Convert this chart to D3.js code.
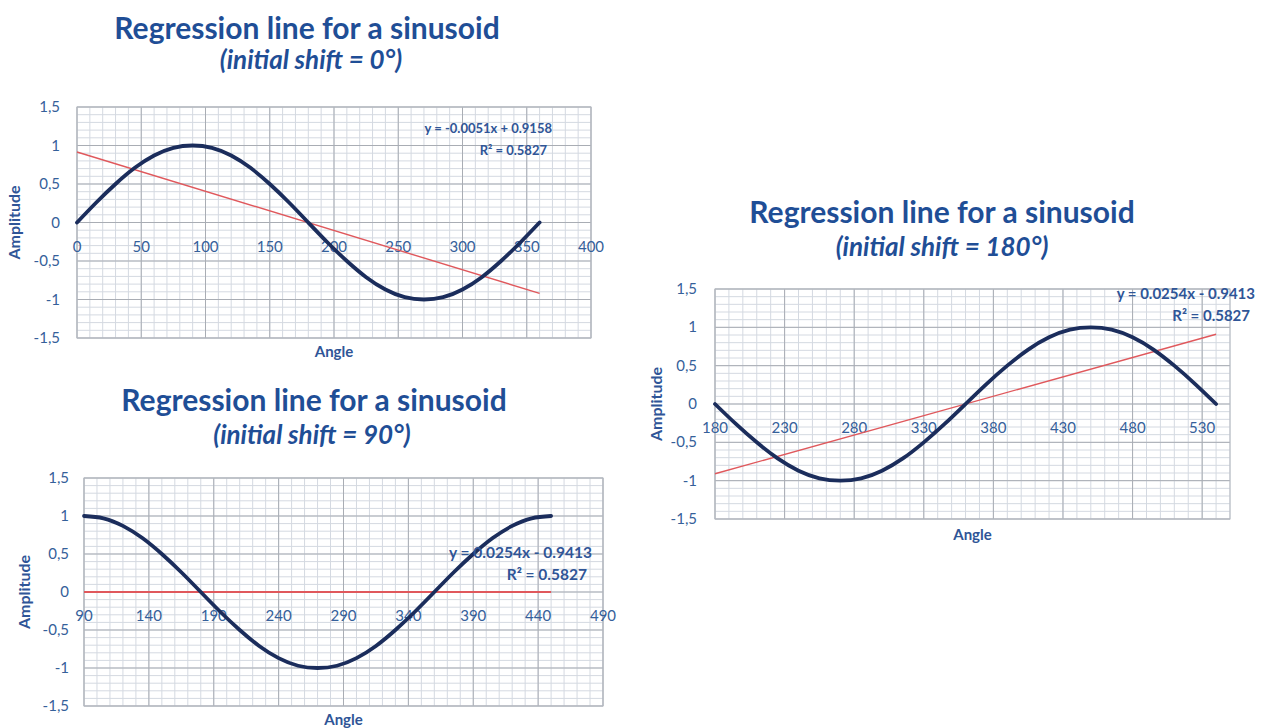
<!DOCTYPE html>
<html lang="en">
<head>
  <meta charset="UTF-8">
  <title>Regression line for a sinusoid</title>
  <script src="https://d3js.org/d3.v7.min.js"></script>
  <style>
    body { margin: 0; padding: 0; background: #fff; font-family: Lato, "Open Sans", sans-serif; }
    svg { display: block; }
    .title { font-weight: bold; fill: #1f4e96; }
    .tick-label { font-size: 15px; fill: #35609a; }
    .axis-title { font-size: 15px; font-weight: bold; fill: #2f5597; }
    .eq { font-weight: bold; fill: #2f5597; }
  </style>
</head>
<body>
  <svg width="1262" height="728"></svg>
  <script>
    const angles0   = [0, 15, 30, 45, 60, 75, 90, 105, 120, 135, 150, 165, 180, 195, 210, 225, 240, 255, 270, 285, 300, 315, 330, 345, 360];
    const angles90  = [90, 105, 120, 135, 150, 165, 180, 195, 210, 225, 240, 255, 270, 285, 300, 315, 330, 345, 360, 375, 390, 405, 420, 435, 450];
    const angles180 = [180, 195, 210, 225, 240, 255, 270, 285, 300, 315, 330, 345, 360, 375, 390, 405, 420, 435, 450, 465, 480, 495, 510, 525, 540];

    const amp0   = [0, 0.26, 0.5, 0.71, 0.87, 0.97, 1, 0.97, 0.87, 0.71, 0.5, 0.26, 0, -0.26, -0.5, -0.71, -0.87, -0.97, -1, -0.97, -0.87, -0.71, -0.5, -0.26, 0];
    const amp90  = [1, 0.97, 0.87, 0.71, 0.5, 0.26, 0, -0.26, -0.5, -0.71, -0.87, -0.97, -1, -0.97, -0.87, -0.71, -0.5, -0.26, 0, 0.26, 0.5, 0.71, 0.87, 0.97, 1];
    const amp180 = [0, -0.26, -0.5, -0.71, -0.87, -0.97, -1, -0.97, -0.87, -0.71, -0.5, -0.26, 0, 0.26, 0.5, 0.71, 0.87, 0.97, 1, 0.97, 0.87, 0.71, 0.5, 0.26, 0];

    // regression line end points
    const trendX0   = [0, 360];
    const trendY0   = [0.916, -0.92];
    const trendX90  = [90, 450];
    const trendY90  = [0, 0];
    const trendX180 = [180, 540];
    const trendY180 = [-0.91, 0.91];

    const titles    = ["Regression line for a sinusoid", "Regression line for a sinusoid", "Regression line for a sinusoid"];
    const subtitles = ["(initial shift = 0°)", "(initial shift = 90°)", "(initial shift = 180°)"];
    const equations = ["y = -0.0051x + 0.9158", "y = 0.0254x - 0.9413", "y = 0.0254x - 0.9413"];
    const rSquared  = ["R² = 0.5827", "R² = 0.5827", "R² = 0.5827"];

    const yTicks = [-1.5, -1, -0.5, 0, 0.5, 1, 1.5];
    const xDomains = [[0, 400], [90, 490], [180, 550]];

    const svg = d3.select("svg");
    const fmtY = d => String(d).replace(".", ",");

    const charts = [
      { angles: angles0, amp: amp0, tx: trendX0, ty: trendY0, dom: xDomains[0],
        box: { x0: 77, x1: 591, y0: 107, y1: 338 },
        titleX: 307, titleY: 39, subX: 311, subY: 69,
        eqX: 552, eqY: 133, eqSize: 13, yLabelGap: 17, yTitleX: 14, xTitleY: 357, redW: 1.4 },
      { angles: angles90, amp: amp90, tx: trendX90, ty: trendY90, dom: xDomains[1],
        box: { x0: 84, x1: 603, y0: 478, y1: 706 },
        titleX: 314, titleY: 411, subX: 312, subY: 444,
        eqX: 592, eqY: 558, eqSize: 15.5, yLabelGap: 15, yTitleX: 24, xTitleY: 725, redW: 1.8 },
      { angles: angles180, amp: amp180, tx: trendX180, ty: trendY180, dom: xDomains[2],
        box: { x0: 715, x1: 1230, y0: 289, y1: 519 },
        titleX: 942, titleY: 223, subX: 942, subY: 256,
        eqX: 1255, eqY: 299, eqSize: 15, yLabelGap: 18, yTitleX: 656, xTitleY: 540, redW: 1.4 }
    ];

    charts.forEach((c, i) => {
      const b = c.box;
      const x = d3.scaleLinear().domain(c.dom).range([b.x0, b.x1]);
      const y = d3.scaleLinear().domain([-1.5, 1.5]).range([b.y1, b.y0]);
      const g = svg.append("g");

      // titles
      g.append("text").attr("class", "title")
        .attr("x", c.titleX).attr("y", c.titleY)
        .attr("text-anchor", "middle").style("font-size", "30px")
        .text(titles[i]);
      g.append("text").attr("class", "title")
        .attr("x", c.subX).attr("y", c.subY)
        .attr("text-anchor", "middle").style("font-size", "26px").style("font-style", "italic")
        .text(subtitles[i]);

      // minor grid
      const minorX = d3.range(c.dom[0], c.dom[1] + 0.01, 10);
      const minorY = d3.range(-15, 16).map(v => v / 10);
      g.append("g").selectAll("line").data(minorX).join("line")
        .attr("x1", d => x(d)).attr("x2", d => x(d))
        .attr("y1", b.y0).attr("y2", b.y1)
        .attr("stroke", "#d4d9e1").attr("stroke-width", 1);
      g.append("g").selectAll("line").data(minorY).join("line")
        .attr("x1", b.x0).attr("x2", b.x1)
        .attr("y1", d => y(d)).attr("y2", d => y(d))
        .attr("stroke", "#d4d9e1").attr("stroke-width", 1);

      // major grid
      const majorX = d3.range(c.dom[0], c.dom[1] + 0.01, 50);
      g.append("g").selectAll("line").data(majorX).join("line")
        .attr("x1", d => x(d)).attr("x2", d => x(d))
        .attr("y1", b.y0).attr("y2", b.y1)
        .attr("stroke", "#a9adb4").attr("stroke-width", 1);
      g.append("g").selectAll("line").data(yTicks).join("line")
        .attr("x1", b.x0).attr("x2", b.x1)
        .attr("y1", d => y(d)).attr("y2", d => y(d))
        .attr("stroke", "#a9adb4").attr("stroke-width", 1);
      g.append("rect")
        .attr("x", b.x0).attr("y", b.y0)
        .attr("width", b.x1 - b.x0).attr("height", b.y1 - b.y0)
        .attr("fill", "none").attr("stroke", "#b5b9c0");

      // tick labels
      g.append("g").selectAll("text").data(yTicks).join("text")
        .attr("class", "tick-label")
        .attr("x", b.x0 - c.yLabelGap).attr("y", d => y(d) + 5)
        .attr("text-anchor", "end")
        .text(fmtY);
      g.append("g").selectAll("text").data(majorX).join("text")
        .attr("class", "tick-label")
        .attr("x", d => x(d)).attr("y", y(0) + 29)
        .attr("text-anchor", "middle")
        .text(d => d);

      // axis titles
      g.append("text").attr("class", "axis-title")
        .attr("x", (b.x0 + b.x1) / 2).attr("y", c.xTitleY)
        .attr("text-anchor", "middle").text("Angle");
      g.append("text").attr("class", "axis-title")
        .attr("transform", `translate(${c.yTitleX + 6},${y(0)}) rotate(-90)`)
        .attr("text-anchor", "middle").style("font-size", "16px").text("Amplitude");

      // regression line
      const trend = c.tx.map((v, k) => [v, c.ty[k]]);
      g.append("path").datum(trend)
        .attr("fill", "none").attr("stroke", "#e0585c").attr("stroke-width", c.redW)
        .attr("d", d3.line().x(d => x(d[0])).y(d => y(d[1])));

      // sinusoid
      const pts = c.angles.map((v, k) => [v, c.amp[k]]);
      g.append("path").datum(pts)
        .attr("fill", "none").attr("stroke", "#1b2d5c").attr("stroke-width", 3.8)
        .attr("stroke-linecap", "round")
        .attr("d", d3.line().curve(d3.curveNatural).x(d => x(d[0])).y(d => y(d[1])));

      // trendline equation
      g.append("text").attr("class", "eq")
        .attr("x", c.eqX).attr("y", c.eqY)
        .style("font-size", c.eqSize + "px")
        .attr("text-anchor", "end").text(equations[i]);
      g.append("text").attr("class", "eq")
        .attr("x", c.eqX - 5).attr("y", c.eqY + 22)
        .style("font-size", c.eqSize + "px")
        .attr("text-anchor", "end").text(rSquared[i]);
    });
  </script>
</body>
</html>
